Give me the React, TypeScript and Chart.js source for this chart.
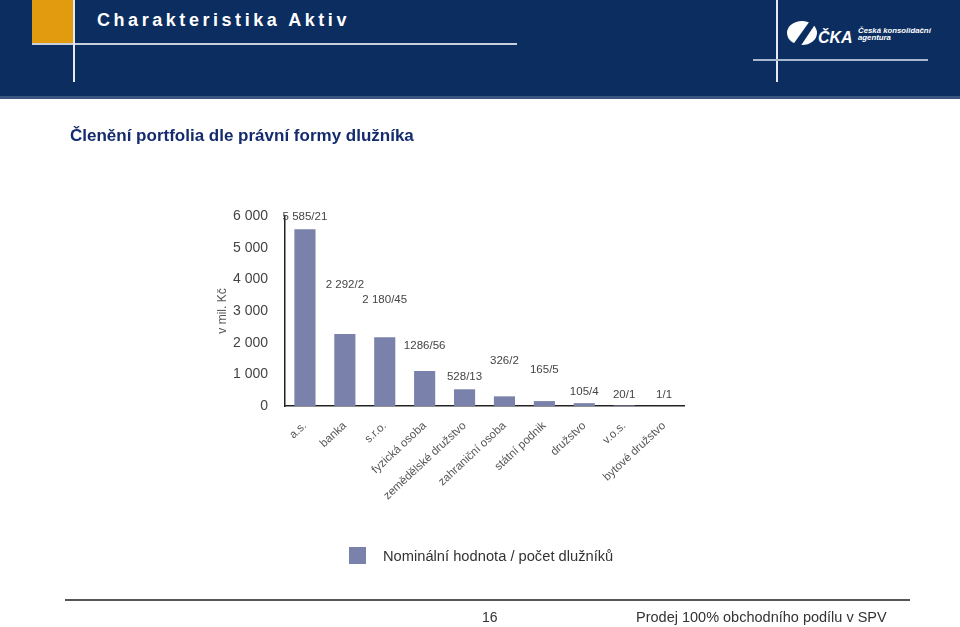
import React, { useEffect, useRef } from "react";
import { Chart, registerables } from "chart.js";

Chart.register(...registerables);

const categories = [
  "a.s.",
  "banka",
  "s.r.o.",
  "fyzická osoba",
  "zemědělské družstvo",
  "zahraniční osoba",
  "státní podnik",
  "družstvo",
  "v.o.s.",
  "bytové družstvo",
];
const nominalValues = [5585, 2275, 2170, 1105, 528, 305, 155, 90, 20, 1];
const valueLabels = ["5 585/21", "2 292/2", "2 180/45", "1286/56", "528/13", "326/2", "165/5", "105/4", "20/1", "1/1"];
const labelLevels = [5970, 3820, 3350, 1910, 925, 1440, 1140, 460, 360, 350];
const yTickValues = [0, 1000, 2000, 3000, 4000, 5000, 6000];
const seriesName = "Nominální hodnota / počet dlužníků";
const yAxisTitle = "v mil. Kč";

const BAR_COLOR = "#7a82ab";
const NAVY = "#0c2d5f";
const FONT = "'Liberation Sans', Arial, Helvetica, sans-serif";

const fmt = (v: number) => String(v).replace(/\B(?=(\d{3})+(?!\d))/g, " ");

const barLabelPlugin = {
  id: "barLabels",
  afterDatasetsDraw(chart: any) {
    const { ctx } = chart;
    const meta = chart.getDatasetMeta(0);
    const y = chart.scales.y;
    ctx.save();
    ctx.font = `11.5px ${FONT}`;
    ctx.fillStyle = "#444";
    ctx.textAlign = "center";
    ctx.textBaseline = "middle";
    meta.data.forEach((bar: any, i: number) => {
      ctx.fillText(valueLabels[i], bar.x, y.getPixelForValue(labelLevels[i]));
    });
    ctx.restore();
  },
};

function ChartCanvas() {
  const ref = useRef<HTMLCanvasElement | null>(null);
  useEffect(() => {
    if (!ref.current) return;
    const chart = new Chart(ref.current, {
      type: "bar",
      data: {
        labels: categories,
        datasets: [
          {
            label: seriesName,
            data: nominalValues,
            backgroundColor: BAR_COLOR,
            barPercentage: 0.53,
            categoryPercentage: 1,
          },
        ],
      },
      options: {
        animation: false,
        responsive: false,
        maintainAspectRatio: false,
        devicePixelRatio: 1,
        layout: { padding: { left: 200, right: 276, top: 216, bottom: 111 } },
        plugins: {
          legend: { display: false },
          tooltip: { enabled: false },
        },
        scales: {
          x: {
            grid: { display: false, drawTicks: false },
            border: { display: true, color: "#222", width: 1.5 },
            ticks: {
              autoSkip: false,
              minRotation: 43,
              maxRotation: 43,
              padding: 13,
              color: "#555",
              font: { size: 11.5, family: FONT },
            },
            afterFit: (scale: any) => {
              scale.height = 110;
            },
          },
          y: {
            min: 0,
            max: 6000,
            afterBuildTicks: (scale: any) => {
              scale.ticks = yTickValues.map((v) => ({ value: v }));
            },
            grid: { display: false, drawTicks: false },
            border: { display: true, color: "#222", width: 1.5 },
            ticks: {
              padding: 17,
              color: "#444",
              font: { size: 14, family: FONT },
              callback: (v: any) => fmt(Number(v)),
            },
            title: {
              display: true,
              text: yAxisTitle,
              color: "#555",
              font: { size: 12, family: FONT },
              padding: { top: 15, bottom: 4 },
            },
            afterFit: (scale: any) => {
              scale.width = 85;
            },
          },
        },
      },
      plugins: [barLabelPlugin],
    });
    return () => chart.destroy();
  }, []);
  return (
    <canvas
      ref={ref}
      width={960}
      height={627}
      style={{ position: "absolute", left: 0, top: 0, width: 960, height: 627 }}
    />
  );
}

export default function App() {
  const abs = (s: React.CSSProperties): React.CSSProperties => ({ position: "absolute", ...s });
  return (
    <div
      style={{
        position: "absolute",
        left: 0,
        top: 0,
        width: 960,
        height: 627,
        overflow: "hidden",
        background: "#fff",
        fontFamily: FONT,
      }}
    >
      <ChartCanvas />
      {/* header */}
      <div style={abs({ left: 0, top: 0, width: 960, height: 96, background: NAVY })} />
      <div style={abs({ left: 0, top: 96, width: 960, height: 3, background: "#3a5580" })} />
      <div style={abs({ left: 32, top: 0, width: 41, height: 43, background: "#e29a0e" })} />
      <div style={abs({ left: 32, top: 43, width: 485, height: 2, background: "#c9d0dc" })} />
      <div style={abs({ left: 73, top: 0, width: 1.5, height: 82, background: "#e6e9ef" })} />
      <div
        style={abs({
          left: 97,
          top: 9,
          lineHeight: "22px",
          fontSize: 18,
          fontWeight: 700,
          letterSpacing: "3.55px",
          color: "#fff",
          whiteSpace: "nowrap",
        })}
      >
        Charakteristika Aktiv
      </div>
      <div style={abs({ left: 776, top: 0, width: 1.5, height: 82, background: "#e6e9ef" })} />
      <div style={abs({ left: 753, top: 59, width: 175, height: 2, background: "#a8b6cf" })} />
      <svg style={abs({ left: 784, top: 14, overflow: "visible" })} width={150} height={36}>
        <ellipse cx={18} cy={19} rx={15} ry={12} fill="#fff" />
        <path d="M 8 32 L 28 4 L 34 6 L 16 33 Z" fill={NAVY} />
        <text x={34} y={29} fill="#fff" fontSize={16} fontWeight={700} fontStyle="italic" fontFamily={FONT}>
          ČKA
        </text>
        <text x={74} y={19} fill="#fff" fontSize={7.8} fontWeight={700} fontStyle="italic" fontFamily={FONT}>
          Česká konsolidační
        </text>
        <text x={74} y={26} fill="#fff" fontSize={7.8} fontWeight={700} fontStyle="italic" fontFamily={FONT}>
          agentura
        </text>
      </svg>
      {/* chart title */}
      <div
        style={abs({
          left: 70,
          top: 126,
          lineHeight: "20px",
          fontSize: 17,
          fontWeight: 900,
          color: "#142c6e",
          whiteSpace: "nowrap",
        })}
      >
        Členění portfolia dle právní formy dlužníka
      </div>
      {/* legend */}
      <div style={abs({ left: 349, top: 547, width: 17, height: 17, background: BAR_COLOR })} />
      <div
        style={abs({ left: 383, top: 546, lineHeight: "20px", fontSize: 14.7, color: "#333", whiteSpace: "nowrap" })}
      >
        {seriesName}
      </div>
      {/* footer */}
      <div style={abs({ left: 65, top: 599, width: 845, height: 2, background: "#555" })} />
      <div style={abs({ left: 482, top: 608, lineHeight: "18px", fontSize: 14, color: "#333" })}>16</div>
      <div
        style={abs({ left: 636, top: 607, lineHeight: "20px", fontSize: 14.5, color: "#333", whiteSpace: "nowrap" })}
      >
        Prodej 100% obchodního podílu v SPV
      </div>
    </div>
  );
}
